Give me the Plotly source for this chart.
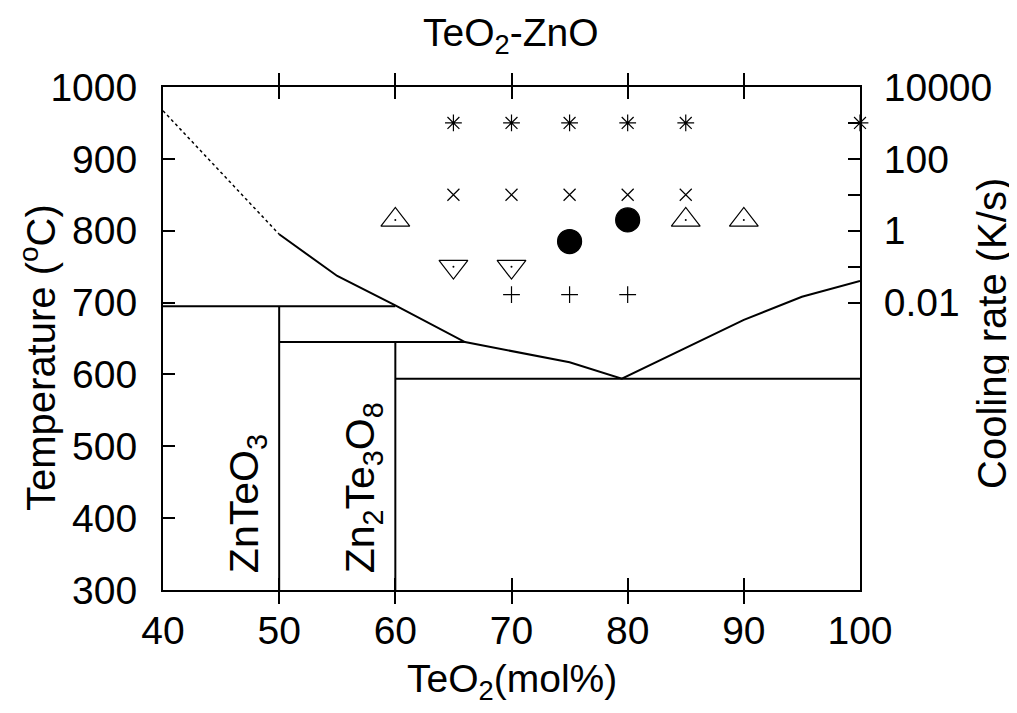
import plotly.graph_objects as go

# ---- data ----
liq_dot_x = [40, 50]
liq_dot_y = [967, 795]
liq_x = [50, 55, 60, 66, 75, 79.5, 90, 95, 100]
liq_y = [795, 737, 696, 645, 617, 594, 676, 708, 730]

# phase boundary segments (x0, x1, y0, y1)
seg_x0 = [40, 50, 60, 50, 60]
seg_x1 = [60, 66, 100, 50, 60]
seg_y0 = [695, 645, 594, 300, 300]
seg_y1 = [695, 645, 594, 695, 645]

# cooling-rate experiments (K/s)
star_x = [65, 70, 75, 80, 85, 100]
star_r = [1000, 1000, 1000, 1000, 1000, 1000]
xm_x = [65, 70, 75, 80, 85]
xm_r = [10, 10, 10, 10, 10]
tup_x = [60, 85, 90]
tup_r = [2, 2, 2]
circ_x = [75, 80]
circ_r = [0.5, 2]
tdn_x = [65, 70]
tdn_r = [0.1, 0.1]
plus_x = [70, 75, 80]
plus_r = [0.0167, 0.0167, 0.0167]

xticks = [40, 50, 60, 70, 80, 90, 100]
yticks = [300, 400, 500, 600, 700, 800, 900, 1000]
y2ticks = [0.01, 1, 100, 10000]
y2labels = ["0.01", "1", "100", "10000"]
y2minor = [0.1, 10, 1000]

FONT = "Liberation Sans, Arial, sans-serif"
FS_TICK = 39

# page has an 8px body margin; figure is sized so the plot area lands on
# page pixels x 163..860, y 87..590
OFF = 8
W, H = 1017 - OFF, 713 - OFF
ML, MT = 163 - OFF, 87 - OFF
PW, PH = 697, 503
MR = W - ML - PW
MB = H - MT - PH

fig = go.Figure()

fig.add_trace(go.Scatter(x=liq_dot_x, y=liq_dot_y, mode="lines",
                         line=dict(color="black", width=1.5, dash="dot"),
                         showlegend=False, hoverinfo="skip"))
fig.add_trace(go.Scatter(x=liq_x, y=liq_y, mode="lines",
                         line=dict(color="black", width=2),
                         showlegend=False, hoverinfo="skip"))
bx, by = [], []
for a, b, c, d in zip(seg_x0, seg_x1, seg_y0, seg_y1):
    bx += [a, b, None]
    by += [c, d, None]
fig.add_trace(go.Scatter(x=bx, y=by, mode="lines",
                         line=dict(color="black", width=2),
                         showlegend=False, hoverinfo="skip"))


def mk(x, r, symbol, size, lw=1.2):
    fig.add_trace(go.Scatter(x=x, y=r, yaxis="y2", mode="markers",
                             marker=dict(symbol=symbol, size=size, color="black",
                                         line=dict(color="black", width=lw)),
                             cliponaxis=False, showlegend=False))


mk(star_x, star_r, "asterisk-open", 14)
mk(xm_x, xm_r, "x-thin-open", 12)
mk(tup_x, tup_r, "triangle-up-open", 25)
mk(tdn_x, tdn_r, "triangle-down-open", 25)
mk(circ_x, circ_r, "circle", 24)
mk(plus_x, plus_r, "cross-thin-open", 12)
# centre dots of triangles
mk(tup_x + tdn_x, tup_r + tdn_r, "circle", 2, lw=0)

axis_common = dict(showgrid=False, zeroline=False, showline=True, linecolor="black",
                   linewidth=2, ticks="inside", ticklen=12, tickwidth=2, tickcolor="black",
                   automargin=False,
                   tickfont=dict(family=FONT, size=FS_TICK, color="black"))


def px_x(page_px):
    return (page_px - OFF - ML) / PW


def px_y(page_py):
    return (MT + PH - (page_py - OFF)) / PH


def ann(text, x, y, size, angle=0):
    return dict(text=text, x=x, y=y, xref="paper", yref="paper", xanchor="center",
                yanchor="middle", textangle=angle, showarrow=False,
                font=dict(family=FONT, size=size, color="black"))


fig.update_layout(
    width=W, height=H,
    margin=dict(l=ML, r=MR, t=MT, b=MB, autoexpand=False),
    plot_bgcolor="white", paper_bgcolor="white",
    font=dict(family=FONT, size=37, color="black"),
    xaxis=dict(range=[40, 100], tickvals=xticks, mirror="allticks",
               ticklabelstandoff=5, **axis_common),
    yaxis=dict(range=[300, 1000], tickvals=yticks, ticklabelstandoff=16, **axis_common),
    yaxis2=dict(type="log", range=[-10, 4], overlaying="y", side="right",
                tickvals=y2ticks, ticktext=y2labels, ticklabelstandoff=14,
                minor=dict(tickvals=y2minor, ticks="inside", ticklen=12, tickwidth=2,
                           tickcolor="black", showgrid=False),
                **axis_common),
    annotations=[
        ann("TeO<sub>2</sub>-ZnO", px_x(511), px_y(35), 39),
        ann("TeO<sub>2</sub>(mol%)", px_x(512), px_y(681), 39),
        ann("Temperature (<sup>o</sup>C)", px_x(38), px_y(357), 40, -90),
        ann("Cooling rate (K/s)", px_x(992), px_y(334), 40, -90),
        dict(text="ZnTeO<sub>3</sub>", textangle=-90, x=47.2, y=300, yshift=15,
             xref="x", yref="y", yanchor="bottom", xanchor="center", showarrow=False,
             font=dict(family=FONT, size=41, color="black")),
        dict(text="Zn<sub>2</sub>Te<sub>3</sub>O<sub>8</sub>", textangle=-90, x=57.2, y=300,
             yshift=15, xref="x", yref="y", yanchor="bottom", xanchor="center",
             showarrow=False, font=dict(family=FONT, size=41, color="black")),
    ],
)

fig.write_html("out.html")
